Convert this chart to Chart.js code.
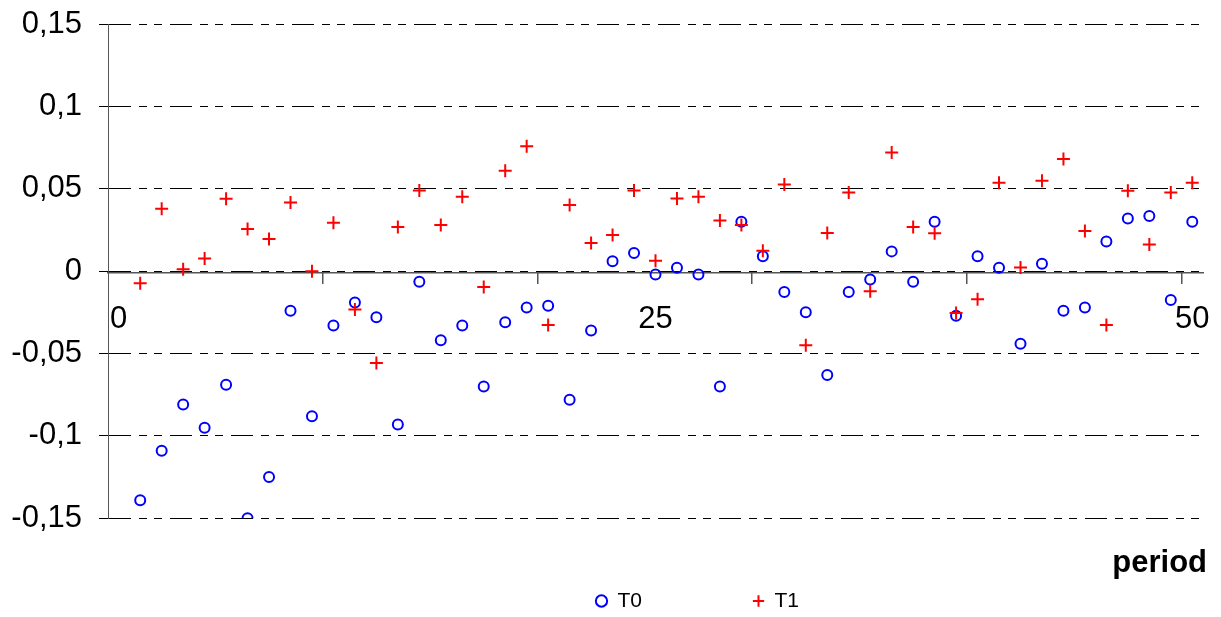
<!DOCTYPE html>
<html>
<head>
<meta charset="utf-8">
<title>T0 / T1 by period</title>
<script src="https://cdn.jsdelivr.net/npm/chart.js@4.4.1/dist/chart.umd.min.js"></script>
<style>
  html, body { margin: 0; padding: 0; background: #fff; }
  #wrap { width: 1221px; height: 617px; }
</style>
</head>
<body>
<div id="wrap"><canvas id="myChart"></canvas></div>
<script>
// periods 1..50 (category 0 is empty in the original)
const periods = [1, 2, 3, 4, 5, 6, 7, 8, 9, 10,
    11, 12, 13, 14, 15, 16, 17, 18, 19, 20,
    21, 22, 23, 24, 25, 26, 27, 28, 29, 30,
    31, 32, 33, 34, 35, 36, 37, 38, 39, 40,
    41, 42, 43, 44, 45, 46, 47, 48, 49, 50];

const t0 = [-0.139, -0.109, -0.081, -0.095, -0.069, -0.150, -0.125, -0.024, -0.088, -0.033,
    -0.019, -0.028, -0.093, -0.0065, -0.042, -0.033, -0.070, -0.031, -0.022, -0.021,
    -0.078, -0.036, 0.006, 0.011, -0.002, 0.002, -0.002, -0.070, 0.030, 0.009,
    -0.0126, -0.025, -0.063, -0.0126, -0.005, 0.012, -0.0065, 0.030, -0.027, 0.009,
    0.002, -0.044, 0.0045, -0.024, -0.022, 0.018, 0.032, 0.0335, -0.0175, 0.030];

const t1 = [-0.0073, 0.0378, 0.0012, 0.0077, 0.0439, 0.0256, 0.0195, 0.0417, 0.0, 0.0293,
    -0.0232, -0.0557, 0.0268, 0.049, 0.028, 0.0451, -0.0096, 0.061, 0.0758, -0.0327,
    0.0402, 0.0171, 0.022, 0.049, 0.0063, 0.0441, 0.0451, 0.0307, 0.028, 0.0124,
    0.0526, -0.0449, 0.0232, 0.0478, -0.0122, 0.072, 0.0268, 0.023, -0.0254, -0.0171,
    0.0537, 0.0022, 0.0549, 0.0681, 0.0244, -0.0327, 0.0488, 0.0161, 0.0478, 0.0537];

const yTicks = [-0.15, -0.1, -0.05, 0, 0.05, 0.1, 0.15];
const xLabelTicks = [0, 25, 50];
const xTickMarks = [9.5, 19.5, 29.5, 39.5, 49.5];

document.addEventListener('DOMContentLoaded', function () {
    Chart.defaults.font.family = "'Liberation Sans', Arial, sans-serif";
    Chart.defaults.color = '#000';

    const toPoints = (vals) => vals.map((v, i) => ({ x: periods[i], y: v }));
    const fmt = (v) => String(Math.round(v * 100) / 100).replace('.', ',');

    // the legend sits off-centre and wide-spaced in the original, nudge it after layout
    const legendShift = {
        id: 'legendShift',
        afterLayout(chart) {
            const lg = chart.legend;
            lg.left += 88;
            lg.right += 88;
            lg.top -= 102.5;
        }
    };

    // the x axes sit on y = 0, so their label padding must not squeeze the plot
    const sidePadding = (scale) => {
        scale.paddingLeft = 0;
        scale.paddingRight = 18;
    };

    const ctx = document.getElementById('myChart').getContext('2d');

    new Chart(ctx, {
        type: 'scatter',
        data: {
            datasets: [
                {
                    label: 'T0',
                    data: toPoints(t0),
                    pointStyle: 'circle',
                    pointRadius: 5,
                    borderWidth: 2,
                    borderColor: '#0000ff',
                    backgroundColor: 'rgba(0,0,0,0)',
                    order: 1
                },
                {
                    label: 'T1',
                    data: toPoints(t1),
                    pointStyle: 'cross',
                    pointRadius: 6.5,
                    borderWidth: 2,
                    borderColor: '#ff0000',
                    backgroundColor: '#ff0000',
                    order: 0
                }
            ]
        },
        options: {
            responsive: true,
            maintainAspectRatio: false,
            animation: false,
            layout: {
                padding: { left: 12, right: 14, top: 24, bottom: 0 }
            },
            plugins: {
                tooltip: { enabled: false },
                title: {
                    display: true,
                    text: 'period',
                    position: 'bottom',
                    align: 'end',
                    color: '#000',
                    font: { size: 31, weight: 'bold' },
                    padding: { top: 26.5, bottom: 0 }
                },
                legend: {
                    position: 'bottom',
                    weight: 3000,
                    maxHeight: 35,
                    labels: {
                        usePointStyle: true,
                        boxWidth: 11,
                        boxHeight: 8,
                        padding: 111,
                        color: '#000',
                        font: { size: 21 },
                        sort: (a, b) => a.datasetIndex - b.datasetIndex
                    }
                }
            },
            scales: {
                x: {
                    type: 'linear',
                    min: -0.5,
                    max: 50.5,
                    position: { y: -0.0009 },
                    afterBuildTicks: (scale) => {
                        scale.ticks = xLabelTicks.map(v => ({ value: v }));
                    },
                    afterFit: sidePadding,
                    grid: { display: false },
                    border: { display: true, color: '#555', width: 1.5 },
                    ticks: {
                        padding: 20,
                        maxRotation: 0,
                        autoSkip: false,
                        font: { size: 31 },
                        callback: (v) => String(v)
                    }
                },
                x2: {
                    type: 'linear',
                    axis: 'x',
                    min: -0.5,
                    max: 50.5,
                    position: { y: -0.0009 },
                    afterBuildTicks: (scale) => {
                        scale.ticks = xTickMarks.map(v => ({ value: v }));
                    },
                    afterFit: sidePadding,
                    grid: {
                        display: true,
                        drawOnChartArea: false,
                        drawTicks: true,
                        tickLength: 11,
                        color: '#555',
                        lineWidth: 1.5
                    },
                    border: { display: false },
                    ticks: { display: false }
                },
                y: {
                    position: 'left',
                    min: -0.15,
                    max: 0.15,
                    afterBuildTicks: (scale) => {
                        scale.ticks = yTicks.map(v => ({ value: v }));
                    },
                    afterFit: (scale) => {
                        scale.width = 96;
                        scale.paddingTop = 0;
                        scale.paddingBottom = 0;
                    },
                    grid: {
                        color: '#000',
                        lineWidth: 1,
                        tickLength: 9,
                        tickBorderDash: [],
                        tickColor: '#000'
                    },
                    border: {
                        display: true,
                        color: '#555',
                        width: 1,
                        dash: [22, 8, 8, 7, 8, 8]
                    },
                    ticks: {
                        padding: 17,
                        font: { size: 31 },
                        callback: (v) => fmt(v)
                    }
                }
            }
        },
        plugins: [legendShift]
    });
});
</script>
</body>
</html>
